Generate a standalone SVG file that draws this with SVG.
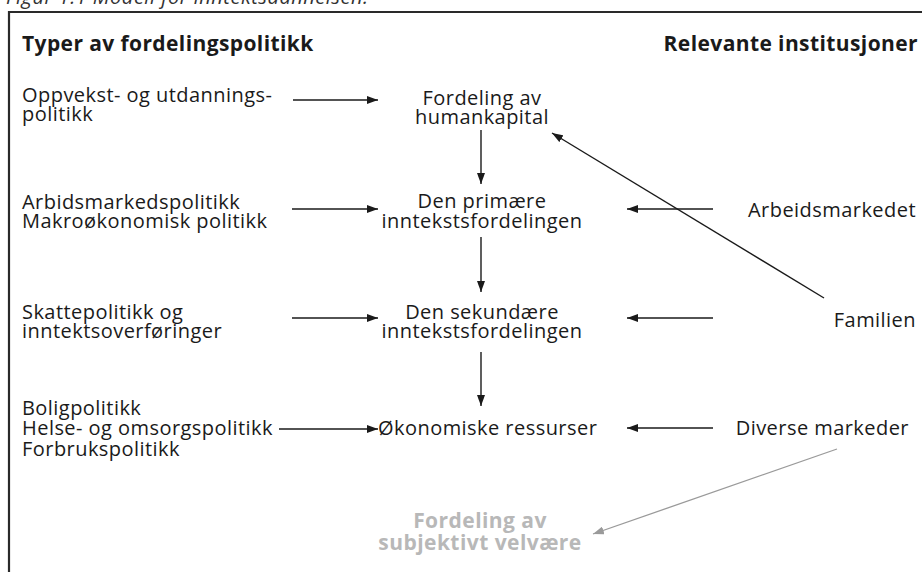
<svg xmlns="http://www.w3.org/2000/svg" width="922" height="572" viewBox="0 0 922 572">
  <defs>
    <marker id="ah" viewBox="0 0 11 8" refX="11" refY="4" markerWidth="11" markerHeight="8" markerUnits="userSpaceOnUse" orient="auto">
      <path d="M0,0 L11,4 L0,8 Z" fill="#1a1a1a"/>
    </marker>
    <marker id="ahg" viewBox="0 0 11 8" refX="11" refY="4" markerWidth="11" markerHeight="8" markerUnits="userSpaceOnUse" orient="auto">
      <path d="M0,0 L11,4 L0,8 Z" fill="#9a9a9a"/>
    </marker>
  </defs>
  <style>
    text { font-family: "Open Sans", "Noto Sans", sans-serif; font-size: 20px; letter-spacing: 0.45px; fill: #1a1a1a; }
    .h { font-weight: bold; font-size: 21px; letter-spacing: 0.4px; }
    .c { text-anchor: middle; }
    .r { text-anchor: end; }
    .g { fill: #b8b8b8; font-weight: bold; font-size: 21px; letter-spacing: 0.45px; }
    .cap { font-style: italic; font-size: 20px; letter-spacing: 0.5px; fill: #333; }
    .ln { stroke: #1a1a1a; stroke-width: 1.4; fill: none; marker-end: url(#ah); }
    .lg { stroke: #9a9a9a; stroke-width: 1.3; fill: none; marker-end: url(#ahg); }
  </style>
  <rect width="922" height="572" fill="#ffffff"/>
  <text class="cap" x="6" y="4">Figur 1.1 Modell for inntektsdannelsen.</text>
  <path d="M9,600 L9,12 L930,12" stroke="#2a2a2a" stroke-width="2.2" fill="none"/>

  <g id="header-left"><text class="h" x="22" y="51">Typer av fordelingspolitikk</text></g>
  <g id="header-right"><text class="h r" x="918" y="51">Relevante institusjoner</text></g>

  <g id="pol1"><text x="22" y="102">Oppvekst- og utdannings-</text><text x="22" y="121">politikk</text></g>
  <g id="pol2"><text x="22" y="209">Arbidsmarkedspolitikk</text><text x="22" y="228">Makroøkonomisk politikk</text></g>
  <g id="pol3"><text x="22" y="319">Skattepolitikk og</text><text x="22" y="338">inntektsoverføringer</text></g>
  <g id="pol4"><text x="22" y="415">Boligpolitikk</text><text x="22" y="435">Helse- og omsorgspolitikk</text><text x="22" y="456">Forbrukspolitikk</text></g>

  <g id="humankapital"><text class="c" x="482" y="105">Fordeling av</text><text class="c" x="482" y="124">humankapital</text></g>
  <g id="primaer"><text class="c" x="482" y="208">Den primære</text><text class="c" x="482" y="228">inntekstsfordelingen</text></g>
  <g id="sekundaer"><text class="c" x="482" y="319">Den sekundære</text><text class="c" x="482" y="338">inntekstsfordelingen</text></g>
  <g id="ressurser"><text x="378" y="435">Økonomiske ressurser</text></g>
  <g id="velvaere"><text class="c g" x="480" y="528">Fordeling av</text><text class="c g" x="480" y="550">subjektivt velvære</text></g>

  <g id="arbeidsmarkedet"><text class="r" x="916" y="217">Arbeidsmarkedet</text></g>
  <g id="familien"><text class="r" x="916" y="327">Familien</text></g>
  <g id="markeder"><text class="r" x="909" y="435">Diverse markeder</text></g>

  <g id="connectors">
    <line class="ln" x1="293" y1="100" x2="378" y2="100"/>
    <line class="ln" x1="292" y1="209" x2="378" y2="209"/>
    <line class="ln" x1="292" y1="318" x2="378" y2="318"/>
    <line class="ln" x1="279" y1="429" x2="378" y2="429"/>
    <line class="ln" x1="713" y1="209" x2="627" y2="209"/>
    <line class="ln" x1="713" y1="318" x2="627" y2="318"/>
    <line class="ln" x1="713" y1="428" x2="627" y2="428"/>
    <line class="ln" x1="481" y1="130" x2="481" y2="184"/>
    <line class="ln" x1="481" y1="237" x2="481" y2="292"/>
    <line class="ln" x1="481" y1="352" x2="481" y2="406"/>
    <line class="ln" x1="824" y1="298" x2="552" y2="133"/>
    <line class="lg" x1="837" y1="449" x2="593" y2="534"/>
  </g>
</svg>
